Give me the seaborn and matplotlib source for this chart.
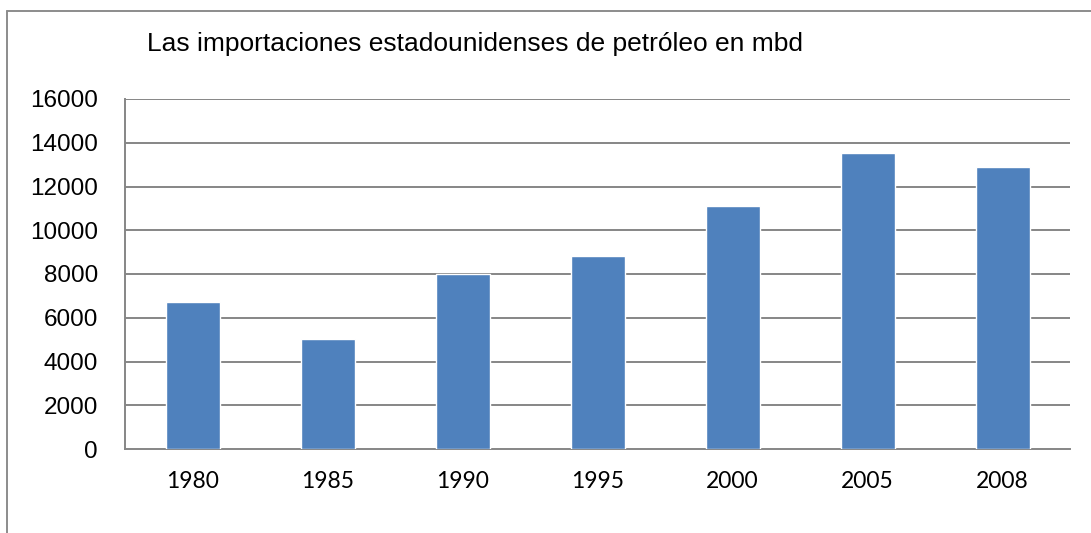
import pandas as pd
import matplotlib.pyplot as plt
import seaborn as sns
from matplotlib.lines import Line2D

# data
years = ["1980", "1985", "1990", "1995", "2000", "2005", "2008"]
imports = [6700, 5050, 8020, 8830, 11100, 13520, 12870]
yticks = [0, 2000, 4000, 6000, 8000, 10000, 12000, 14000, 16000]

df = pd.DataFrame({"year": years, "imports": imports})

sns.set_style("white")
plt.rcParams['font.family'] = ['Liberation Sans', 'DejaVu Sans']
plt.rcParams['text.color'] = 'black'
plt.rcParams['xtick.color'] = 'black'
plt.rcParams['ytick.color'] = 'black'

fig = plt.figure(figsize=(10.91, 5.33), dpi=100)
ax = fig.add_axes([125 / 1091, 84 / 533, 945 / 1091, 350 / 533])

sns.barplot(data=df, x="year", y="imports", color="#4F81BD", width=0.4,
            saturation=1, ax=ax, zorder=3)

grid_c = "#868686"
ax.set_ylim(0, 16000)
ax.set_xlim(-0.5, len(years) - 0.5)
ax.set_yticks(yticks)
ax.set_yticklabels([str(v) for v in yticks], fontsize=17.5)
for v in yticks[1:]:
    ax.axhline(v, color=grid_c, lw=1.4, zorder=1)

# category boundary ticks on x
ax.set_xticks([i - 0.5 for i in range(len(years) + 1)], minor=False)
ax.set_xticklabels([])
ax.set_xticks(range(len(years)), minor=True)
ax.set_xticklabels(years, minor=True, fontsize=16.5, family=['Lato', 'DejaVu Sans'])
ax.tick_params(axis="x", which="major", length=7, width=1.2, color=grid_c, direction="out")
ax.tick_params(axis="x", which="minor", length=0, pad=16)
ax.tick_params(axis="y", length=7, width=1.2, color=grid_c, direction="out", pad=12.5,
               labelcolor="black")

for s in ["top", "right"]:
    ax.spines[s].set_visible(False)
for s in ["left", "bottom"]:
    ax.spines[s].set_color(grid_c)
    ax.spines[s].set_linewidth(1.4)

ax.set_xlabel("")
ax.set_ylabel("")

fig.text(475 / 1091, 1 - 44 / 533, "Las importaciones estadounidenses de petróleo en mbd",
         ha="center", va="center", fontsize=19, color="black")

# outer chart frame
fig.add_artist(Line2D([7 / 1091, 1], [1 - 11 / 533, 1 - 11 / 533],
                      transform=fig.transFigure, color="#8c8c8c", lw=1.4))
fig.add_artist(Line2D([7 / 1091, 7 / 1091], [0, 1 - 11 / 533],
                      transform=fig.transFigure, color="#8c8c8c", lw=1.4))

plt.savefig("out.png", dpi=100)
